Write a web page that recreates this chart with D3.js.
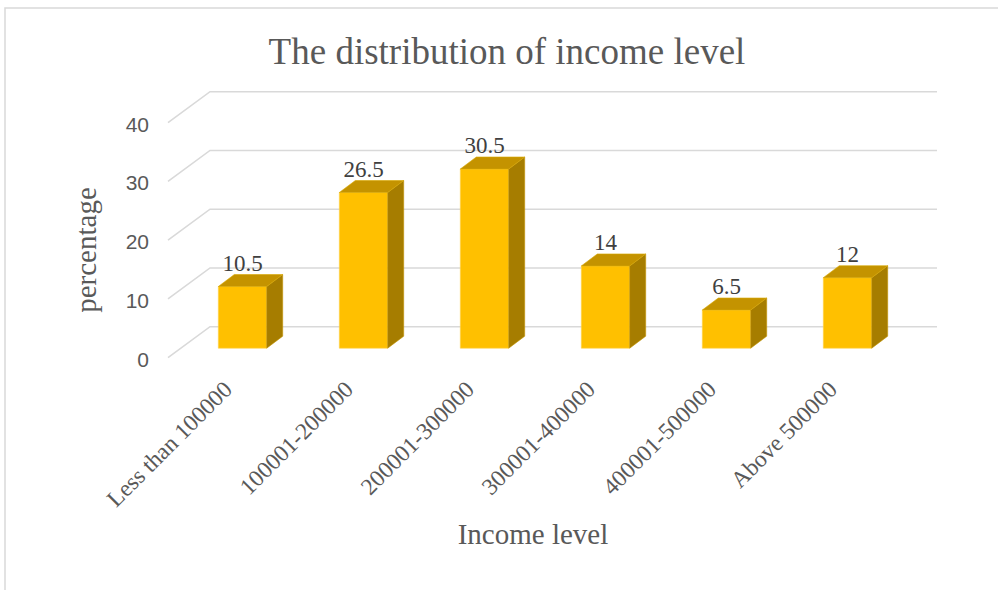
<!DOCTYPE html>
<html><head><meta charset="utf-8">
<script src="https://cdn.jsdelivr.net/npm/d3@7"></script>
<style>html,body{margin:0;padding:0;background:#fff;}svg{display:block;}</style>
</head><body>
<svg id="chart" width="998" height="590"></svg>
<script>
const categories = ["Less than 100000","100001-200000","200001-300000","300001-400000","400001-500000","Above 500000"];
const values = [10.5, 26.5, 30.5, 14, 6.5, 12];
const yTicks = [0, 10, 20, 30, 40];
const titleText = "The distribution of income level";
const xTitle = "Income level";
const yTitle = "percentage";

const svg = d3.select("#chart");
const serif = "'Liberation Serif','Times New Roman',serif";
const sans = "'Liberation Sans',Arial,sans-serif";

// 3D projection offsets
const wallDx = 42, wallDy = -31;     // full depth of floor/wall
const barDx = 16, barDy = -12;       // bar depth
const offDx = (wallDx - barDx) / 2, offDy = (wallDy - barDy) / 2;

const x = d3.scaleBand().domain(categories).range([169, 895]).paddingInner(0.6).paddingOuter(0.3);
const y = d3.scaleLinear().domain([0, 40]).range([357.7, 122.7]);

// chart border
svg.append("path").attr("d", "M5,590 L5,8 L998,8").attr("fill","none").attr("stroke","#d9d9d9").attr("stroke-width",1.5);

// gridlines (floor edge diagonal + back wall)
const grid = svg.append("g");
yTicks.forEach(t => {
  const y0 = y(t);
  grid.append("path")
    .attr("d", `M${x.range()[0]-1},${y0} L${x.range()[0]-1+wallDx},${y0+wallDy} L${x.range()[1]+wallDx},${y0+wallDy}`)
    .attr("fill","none").attr("stroke","#d9d9d9").attr("stroke-width",1.6);
});

// y tick labels
svg.append("g").selectAll("text").data(yTicks).join("text")
  .attr("x", 149).attr("y", d => y(d) + 9)
  .attr("text-anchor","end").attr("font-family", sans).attr("font-size", 21).attr("fill","#595959")
  .text(d => d);

// bars
const bars = svg.append("g");
categories.forEach((c, i) => {
  const v = values[i];
  const x0 = x(c) + offDx, x1 = x0 + x.bandwidth();
  const yb = y(0) + offDy, yt = y(v) + offDy;
  bars.append("path").attr("d", `M${x0},${yb} L${x0},${yt} L${x1},${yt} L${x1},${yb} Z`)
    .attr("fill","#ffc000").attr("stroke","#ffd34d").attr("stroke-width",0.6);
  bars.append("path").attr("d", `M${x1},${yb} L${x1},${yt} L${x1+barDx},${yt+barDy} L${x1+barDx},${yb+barDy} Z`)
    .attr("fill","#a67d00").attr("stroke","#c29300").attr("stroke-width",0.6);
  bars.append("path").attr("d", `M${x0},${yt} L${x0+barDx},${yt+barDy} L${x1+barDx},${yt+barDy} L${x1},${yt} Z`)
    .attr("fill","#c49300").attr("stroke","#d9a800").attr("stroke-width",0.6);
});

// value labels
svg.append("g").selectAll("text").data(categories).join("text")
  .attr("x", c => x(c) + offDx + x.bandwidth()/2)
  .attr("y", (c, i) => y(values[i]) + offDy - 16)
  .attr("text-anchor","middle").attr("font-family", serif).attr("font-size", 23).attr("fill","#404040")
  .text((c, i) => values[i]);

// category labels
svg.append("g").selectAll("text").data(categories).join("text")
  .attr("transform", c => `translate(${x(c) + offDx + x.bandwidth()/2 - 9},${391}) rotate(-45)`)
  .attr("text-anchor","end").attr("font-family", serif).attr("font-size", 23.5).attr("fill","#595959")
  .text(c => c);

// title
svg.append("text").attr("x", 507).attr("y", 64).attr("text-anchor","middle")
  .attr("font-family", serif).attr("font-size", 37).attr("fill","#595959").text(titleText);

// axis titles
svg.append("text").attr("x", 533).attr("y", 544).attr("text-anchor","middle")
  .attr("font-family", serif).attr("font-size", 29).attr("fill","#595959").text(xTitle);
svg.append("text").attr("transform","translate(96,250) rotate(-90)").attr("text-anchor","middle")
  .attr("font-family", serif).attr("font-size", 29).attr("fill","#595959").text(yTitle);
</script>
</body></html>
